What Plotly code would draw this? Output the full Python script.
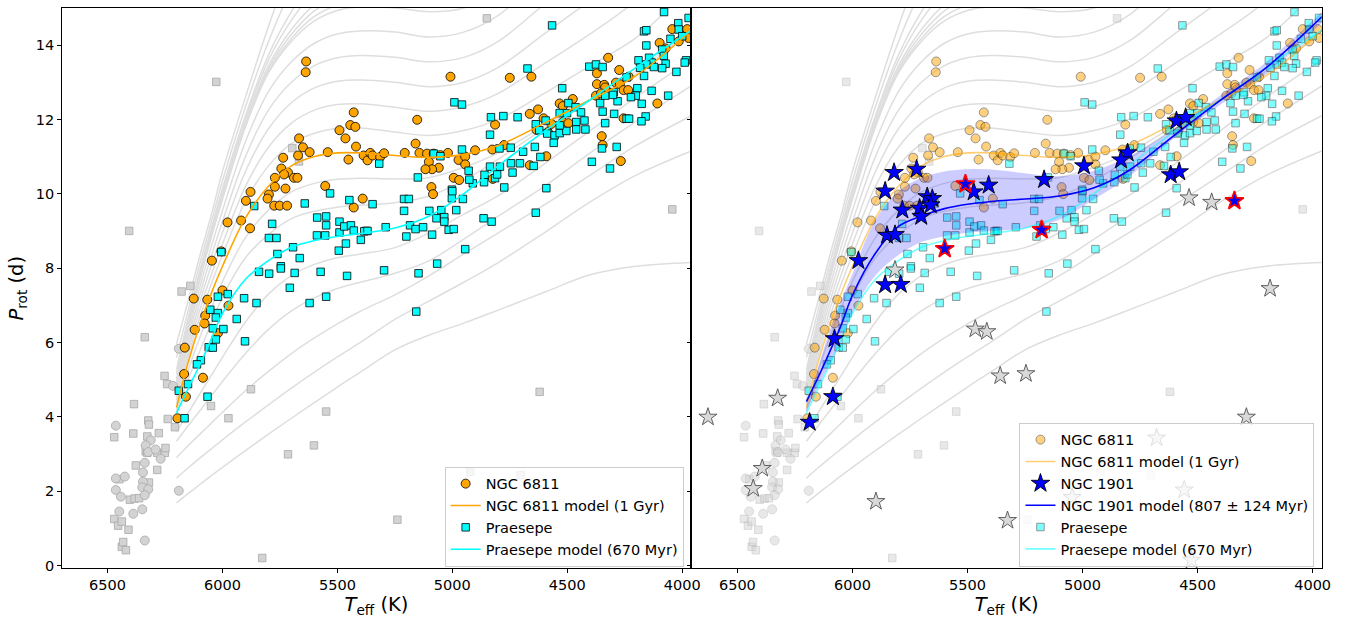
import plotly.graph_objects as go

# ---------------- grey gyrochrone grid (Teff grid, one P row per curve) -------------
GRID_TEFF = [6200, 6150, 6100, 6050, 6000, 5900, 5800, 5700, 5600, 5500, 5400,
             5250, 5100, 4950, 4800, 4600, 4400, 4200, 3960]
N = None
iso_a = [1.68, 1.93, 2.17, 2.41, 2.64, 3.09, 3.53, 3.96, 4.38, 4.80, 5.20, 5.80, 6.20, 6.52, 6.87, 7.35, 7.82, 8.05, 8.15]
iso_b = [2.35, 2.62, 2.88, 3.13, 3.38, 3.86, 4.32, 4.77, 5.20, 5.61, 6.00, 6.62, 7.12, 7.62, 8.15, 8.95, 9.78, 10.50, 11.15]
iso_c = [2.90, 3.22, 3.52, 3.82, 4.12, 4.70, 5.22, 5.70, 6.12, 6.50, 6.84, 7.28, 7.80, 8.38, 8.95, 9.70, 10.50, 11.30, 12.10]
iso_d = [3.34, 3.75, 4.15, 4.55, 4.95, 5.70, 6.35, 6.85, 7.20, 7.45, 7.62, 7.86, 8.20, 8.78, 9.40, 10.20, 11.10, 11.95, 12.90]
iso_e = [3.60, 4.10, 4.60, 5.10, 5.60, 6.55, 7.30, 7.80, 8.10, 8.28, 8.38, 8.55, 8.95, 9.45, 9.95, 10.80, 11.70, 12.60, 13.60]
iso_g = [4.15, 5.00, 5.75, 6.50, 7.22, 8.28, 8.90, 9.33, 9.53, 9.64, 9.69, 9.76, 9.94, 10.36, 10.93, 11.76, 12.53, 13.31, 14.40]
iso_h = [4.20, 5.23, 6.11, 6.91, 7.64, 8.82, 9.56, 10.05, 10.28, 10.39, 10.42, 10.40, 10.44, 10.71, 11.10, 11.83, 12.53, 13.23, 14.40]
iso_j = [4.35, 5.60, 6.65, 7.55, 8.35, 9.80, 10.75, 11.35, 11.63, 11.76, 11.77, 11.66, 11.57, 11.70, 12.00, 12.70, 13.45, 14.20, 15.60]
iso_k = [4.45, 5.75, 6.85, 7.80, 8.65, 10.20, 11.25, 11.90, 12.25, 12.40, 12.42, 12.33, 12.22, 12.35, 12.70, 13.50, 14.30, 15.20, 16.60]
iso_l = [4.55, 5.90, 7.05, 8.05, 8.95, 10.60, 11.75, 12.45, 12.85, 13.03, 13.06, 13.00, 12.88, 13.00, 13.40, 14.30, 15.20, 16.10, 17.60]
iso_m = [4.65, 6.05, 7.25, 8.30, 9.25, 11.00, 12.25, 13.00, 13.45, 13.66, 13.72, 13.67, 13.55, 13.67, 14.10, 15.10, 16.10, 17.10, 18.60]
iso_n = [4.75, 6.20, 7.45, 8.55, 9.55, 11.40, 12.75, 13.55, 14.05, 14.30, 14.38, 14.35, 14.22, 14.35, 14.80, 15.90, 17.00, N, N]
iso_o = [4.85, 6.35, 7.65, 8.80, 9.85, 11.80, 13.25, 14.10, 14.65, 14.93, 15.03, 15.00, 14.90, 15.00, 15.50, 16.70, N, N, N]
iso_z1 = [4.89, 6.38, 7.68, 8.82, 9.88, 11.83, 13.30, 14.18, 14.77, 15.08, 15.21, 15.25, N, N, N, N, N, N, N]
iso_z2 = [4.95, 6.42, 7.71, 8.85, 9.92, 11.87, 13.36, 14.29, 14.92, 15.27, 15.43, 15.5, N, N, N, N, N, N, N]
iso_z3 = [5.02, 6.46, 7.75, 8.89, 9.96, 11.92, 13.44, 14.42, 15.09, 15.50, 15.70, N, N, N, N, N, N, N, N]
iso_z4 = [5.15, 6.55, 7.83, 8.96, 10.05, 12.02, 13.59, 14.67, 15.45, 15.95, 16.24, N, N, N, N, N, N, N, N]
iso_z5 = [5.27, 6.64, 7.90, 9.03, 10.14, 12.10, 13.73, 14.90, 15.77, 16.36, 16.73, N, N, N, N, N, N, N, N]
iso_z6 = [5.59, 6.85, 8.09, 9.20, 10.35, 12.34, 14.09, 15.51, 16.63, 17.46, N, N, N, N, N, N, N, N, N]
iso_z7 = [5.96, 7.10, 8.30, 9.40, 10.60, 12.60, 14.50, 16.20, 17.60, N, N, N, N, N, N, N, N, N, N]
ISOCHRONES = [iso_a, iso_b, iso_c, iso_d, iso_e, iso_g, iso_h, iso_j, iso_k, iso_l,
              iso_m, iso_n, iso_o, iso_z1, iso_z2, iso_z3, iso_z4, iso_z5, iso_z6, iso_z7]

# ---------------- cluster models -------------
NGC6811_MODEL = [4.25, 5.45, 6.45, 7.30, 8.05, 9.35, 10.20, 10.75, 11.00, 11.10, 11.10, 11.03, 10.98, 11.06, 11.30, 11.90, 12.53, 13.18, 14.40]
PRAESEPE_MODEL = [4.10, 4.75, 5.38, 6.07, 6.78, 7.70, 8.20, 8.56, 8.74, 8.85, 8.93, 9.08, 9.40, 10.00, 10.75, 11.68, 12.53, 13.40, 14.40]
NGC1901_MODEL = [4.41, 5.05, 5.73, 6.45, 7.27, 8.40, 9.12, 9.40, 9.60, 9.72, 9.79, 9.86, 9.94, 10.16, 10.62, 11.58, 12.52, 13.40, 14.76]
NGC1901_UPPER = [4.30, 5.30, 6.30, 7.10, 7.85, 9.30, 10.06, 10.43, 10.60, 10.66, 10.65, 10.55, 10.47, 10.62, 11.00, 11.75, 12.65, 13.55, 14.90]
NGC1901_LOWER = [4.15, 4.80, 5.40, 6.00, 6.80, 7.80, 8.35, 8.70, 8.86, 8.95, 9.00, 9.07, 9.30, 9.85, 10.45, 11.50, 12.40, 13.25, 14.60]

# ---------------- observed stars (Teff [K], Prot [d]) -------------
NGC6811 = [(5636,13.56),(5638,13.27),(5429,12.19),(5491,11.71),(5444,11.85),(5422,11.80),(5465,11.49),(5419,11.27),(5667,11.49),(5650,11.25),(5621,11.12),(5542,11.12),(5671,11.03),(5736,10.97),(5452,10.92),(5744,10.68),(5715,10.57),(5732,10.52),(5772,10.43),(5689,10.43),(5674,10.43),(5553,10.21),(5772,10.19),(5726,10.14),(5878,10.05),(5798,9.98),(5804,9.87),(5898,9.81),(5775,9.68),(5751,9.68),(5719,9.68),(5429,9.63),(5919,9.28),(5978,9.23),(5880,9.07),(6046,8.20),(6005,8.45),(6000,7.40),(5974,6.99),(6066,7.15),(6125,7.18),(6075,6.72),(6078,6.51),(6121,6.34),(6020,6.25),(6164,5.86),(6167,5.15),(6085,5.05),(6159,4.54),(6196,3.96),
           (5390,9.87),(5386,11.03),(5369,10.90),(5357,11.10),(5347,11.03),(5314,10.99),(5297,11.09),
           (5008,13.15),(4750,13.12),(4656,13.15),(4322,13.66),(4098,14.06),(4072,13.91),(4043,14.43),(3978,14.43),(3972,14.19),(4015,14.10),
           (5153,11.99),(4814,11.86),(4663,12.15),(4627,12.27),(4533,12.43),(4476,12.55),(4371,13.24),(4371,12.95),(4339,12.93),(4335,12.86),(4375,12.64),(4353,12.70),(4288,12.99),(4271,12.95),(4255,12.79),(4235,12.79),(4233,13.15),(4274,13.33),(4108,12.43),(4255,12.03),(4350,11.55),(4346,11.31),(4267,10.88),(4603,12.03),(4569,11.88),(4519,11.93),(4495,11.90),(4584,11.66),(4634,11.72),(4519,12.36),
           (5207,11.10),(5160,11.35),(5143,11.10),(5110,11.08),(5102,10.86),(5081,11.08),(5052,11.04),(5019,11.10),(5059,10.70),(5088,10.66),(5117,10.66),(4994,10.43),(4970,10.37),(4973,10.91),(4944,11.00),(4944,10.79),(4901,11.17),(4826,11.19),(4775,11.31),(5091,10.18),(5084,9.99),(4824,10.40),(4663,10.77),(4591,11.01)]

PRAESEPE = [(5862,9.67),(5784,9.19),(5798,8.81),(5765,8.81),(5761,8.38),(5746,8.05),(5746,7.99),(5693,8.56),(5664,8.27),(5686,7.87),(5642,9.74),(5532,10.01),(5588,9.36),(5549,9.39),(5549,9.15),(5589,8.88),(5553,8.88),(5491,8.96),(5494,8.47),(5463,8.66),(5448,9.83),(5458,7.79),(5491,9.25),(5470,9.12),(5441,9.15),(5429,9.01),(5573,7.90),(5549,7.23),(5621,7.06),(5707,7.47),(5841,7.90),(5852,7.06),(5906,7.19),(5977,7.30),(6020,7.23),(6005,8.43),(6053,6.88),(6020,6.79),
            (5376,9.00),(5398,8.76),(5347,9.72),(5318,10.81),(5290,9.10),(5297,7.94),(5797,7.85),(5938,6.63),(6029,6.67),(6042,6.38),(5996,6.36),(6029,6.08),(6060,5.87),(6042,5.86),(5902,6.03),(6094,5.52),(6111,5.41),(6150,4.88),(6190,4.70),(6065,4.54),(6165,3.96),(5383,8.99),(5369,9.00),
            (4079,14.89),(4566,14.53),(4017,14.59),(4015,14.42),(3972,14.73),(4166,14.37),(4156,14.40),(4000,14.24),(4051,14.17),(4156,13.99),(4087,13.88),(4080,13.71),(4072,13.50),(4087,13.38),(3983,13.59),(3989,13.53),(4025,13.28),(4190,13.59),(4144,13.66),(4133,13.53),(4156,13.48),(4183,13.39),(4166,13.17),(4123,13.41),(4242,13.13),(4404,13.42),(4375,13.48),(4346,13.41),(4195,12.84),(4133,12.77),(4061,12.64),(4202,12.64),(4223,12.60),(4281,12.49),(4176,12.42),(4159,12.08),(4177,11.95),(4242,12.02),(4231,12.02),(4296,12.15),(4335,11.90),(4346,12.21),(4357,12.44),(4298,12.73),(4335,12.64),(4301,12.66),(4495,12.44),(4464,12.33),(4440,12.19),(4533,12.17),(4501,12.17),(4594,11.97),(4461,11.93),(4425,11.97),(4637,11.87),(4622,11.71),(4587,11.62),(4555,11.57),(4533,11.63),(4504,11.69),(4461,11.73),(4421,11.73),(4559,11.37),(4533,11.84),(4673,13.37),(4522,12.84),(4832,12.06),(4778,12.09),(4716,12.06),(4836,11.59),(4991,12.46),(4958,12.40),(4958,11.19),(4641,11.26),(4692,11.13),(4617,10.99),(4795,11.22),(4746,11.24),(4929,10.62),(4860,10.51),(4836,10.73),(4793,10.73),(4745,10.82),(4738,10.57),(4706,10.82),(4646,10.75),(4911,10.28),(4862,10.31),(4814,10.42),(4774,10.17),(4954,9.86),(5002,10.11),(5002,9.88),(5150,10.44),(5081,11.08),(5052,11.01),(5210,9.86),(5189,9.86),(4591,10.15),(4393,10.86),(4314,10.68),(4349,11.22),(4285,11.26),(4926,10.38),(4805,10.52),(5000,10.07),
            (5210,9.54),(5100,9.54),(5048,9.56),(5069,9.34),(5035,9.37),(5035,9.25),(5016,9.03),(4994,9.05),(4983,9.56),(5184,9.15),(5160,9.05),(5127,9.10),(5088,8.90),(5200,8.85),(4864,9.34),(4829,9.25),(4637,9.49),(4944,8.51),(5066,8.12),(5147,7.86),(5157,6.83)]

BG_SQUARES = [(6027,13.01),(6406,9.00),(5696,11.23),(6178,7.37),(6140,7.52),(5667,10.87),(4850,14.72),(4043,9.58),(6338,6.14),(6252,5.10),(6241,4.88),(6385,4.34),(6238,3.94),(6207,3.72),(6323,3.90),(6320,3.79),(6388,3.55),(6277,3.56),(6471,3.45),(6327,3.47),(6334,3.07),(6327,3.03),(6284,3.03),(6251,3.03),(6248,3.16),(6377,2.69),(6284,2.57),(6320,2.23),(6449,2.32),(6403,1.77),(6382,1.80),(6363,1.81),(6471,1.25),(6454,1.07),(6438,1.18),(6409,0.96),(6438,0.50),(6432,0.63),(6420,0.41),(6050,4.29),(5974,3.96),(5876,4.74),(5715,2.99),(5602,3.23),(5549,4.14),(5827,0.20),(4620,4.67),(5239,1.23),(4922,2.52),(4703,2.43)]
BG_CIRCLES = [(6464,3.76),(6312,3.37),(6334,3.23),(6323,3.05),(6291,3.12),(6269,2.87),(6338,2.76),(6346,2.50),(6464,2.34),(6425,2.39),(6346,2.25),(6349,2.10),(6323,2.05),(6464,2.03),(6442,1.85),(6338,1.89),(6449,1.45),(6388,1.39),(6349,1.51),(6338,0.67),(6190,2.01),(6190,5.83),(6215,4.83)]

NGC1901 = [(5819,10.57),(5721,10.66),(5858,10.07),(5783,9.56),(5708,9.61),(5675,9.92),(5653,9.87),(5660,9.70),(5701,9.39),(5850,8.88),(5815,8.90),(5974,8.20),(5858,7.55),(5790,7.56),(5473,10.05),(5408,10.23),(5167,10.38),(4994,10.75),(4804,11.10),(4833,10.91),(4592,11.96),(4552,12.05),(4617,10.51),(4580,10.59),(6078,6.10),(6085,4.54),(6186,3.85)]
NGC1901_FLAGGED = [(5509,10.26),(5599,8.52),(5178,9.03),(4340,9.81)]
NGC1901_NONMEMBERS = [(4537,9.89),(4439,9.77),(4185,7.45),(6628,3.99),(6325,4.50),(6392,2.61),(6431,2.07),(5466,6.36),(5416,6.29),(5358,5.10),(5246,5.16),(5898,1.72),(5326,1.21),(4288,3.99),(4678,3.43),(4558,2.03),(4526,0.14),(5045,1.83),(5815,7.95)]

XRANGE = [6700, 3960]
YRANGE = [-0.08, 15.0]
FONT = "DejaVu Sans"
SMOOTH = 1.0


def split(pairs):
    return [p[0] for p in pairs], [p[1] for p in pairs]


fig = go.Figure()


def add_panel(xa, ya, right):
    fade = 0.5 if right else 1.0
    leg = "legend2" if right else "legend"
    for row in ISOCHRONES:
        fig.add_trace(go.Scatter(x=GRID_TEFF, y=row, mode="lines", xaxis=xa, yaxis=ya,
                                 line=dict(color="#dedede", width=1.5, shape="spline", smoothing=SMOOTH),
                                 showlegend=False, hoverinfo="skip"))
    tx, py = split(BG_SQUARES)
    fig.add_trace(go.Scatter(x=tx, y=py, mode="markers", xaxis=xa, yaxis=ya, showlegend=False,
                             marker=dict(symbol="square", size=7.5, color="#d3d3d3", opacity=fade,
                                         line=dict(color="#a8a8a8", width=0.8))))
    tx, py = split(BG_CIRCLES)
    fig.add_trace(go.Scatter(x=tx, y=py, mode="markers", xaxis=xa, yaxis=ya, showlegend=False,
                             marker=dict(symbol="circle", size=9, color="#d3d3d3", opacity=fade,
                                         line=dict(color="#a8a8a8", width=0.8))))
    tx, py = split(NGC6811)
    fig.add_trace(go.Scatter(x=tx, y=py, mode="markers", xaxis=xa, yaxis=ya, name="NGC 6811",
                             legend=leg, legendrank=1,
                             marker=dict(symbol="circle", size=9, color="#ffa500", opacity=fade,
                                         line=dict(color="black", width=0.8))))
    tx, py = split(PRAESEPE)
    fig.add_trace(go.Scatter(x=tx, y=py, mode="markers", xaxis=xa, yaxis=ya, name="Praesepe",
                             legend=leg, legendrank=5,
                             marker=dict(symbol="square", size=7.5, color="#00ffff", opacity=fade,
                                         line=dict(color="black", width=0.8))))
    if right:
        fig.add_trace(go.Scatter(x=GRID_TEFF, y=NGC1901_UPPER, mode="lines", xaxis=xa, yaxis=ya,
                                 line=dict(width=0, shape="spline", smoothing=SMOOTH),
                                 showlegend=False, hoverinfo="skip"))
        fig.add_trace(go.Scatter(x=GRID_TEFF, y=NGC1901_LOWER, mode="lines", xaxis=xa, yaxis=ya,
                                 line=dict(width=0, shape="spline", smoothing=SMOOTH), fill="tonexty",
                                 fillcolor="rgba(0,0,255,0.2)", showlegend=False, hoverinfo="skip"))
    lc_or = "rgba(255,165,0,0.55)" if right else "#ffa500"
    lc_cy = "rgba(0,255,255,0.55)" if right else "#00ffff"
    fig.add_trace(go.Scatter(x=GRID_TEFF, y=NGC6811_MODEL, mode="lines", xaxis=xa, yaxis=ya,
                             name="NGC 6811 model (1 Gyr)", legend=leg, legendrank=2,
                             line=dict(color=lc_or, width=1.6, shape="spline", smoothing=SMOOTH)))
    fig.add_trace(go.Scatter(x=GRID_TEFF, y=PRAESEPE_MODEL, mode="lines", xaxis=xa, yaxis=ya,
                             name="Praesepe model (670 Myr)", legend=leg, legendrank=6,
                             line=dict(color=lc_cy, width=1.6, shape="spline", smoothing=SMOOTH)))
    if right:
        fig.add_trace(go.Scatter(x=GRID_TEFF, y=NGC1901_MODEL, mode="lines", xaxis=xa, yaxis=ya,
                                 name="NGC 1901 model (807 ± 124 Myr)", legend=leg, legendrank=4,
                                 line=dict(color="#0000ff", width=1.6, shape="spline", smoothing=SMOOTH)))
        tx, py = split(NGC1901_NONMEMBERS)
        fig.add_trace(go.Scatter(x=tx, y=py, mode="markers", xaxis=xa, yaxis=ya, showlegend=False,
                                 marker=dict(symbol="star", size=13.5, color="#d9d9d9",
                                             line=dict(color="#505050", width=0.9))))
        tx, py = split(NGC1901)
        fig.add_trace(go.Scatter(x=tx, y=py, mode="markers", xaxis=xa, yaxis=ya, name="NGC 1901",
                                 legend=leg, legendrank=3,
                                 marker=dict(symbol="star", size=14, color="#0000ff",
                                             line=dict(color="black", width=0.9))))
        tx, py = split(NGC1901_FLAGGED)
        fig.add_trace(go.Scatter(x=tx, y=py, mode="markers", xaxis=xa, yaxis=ya, showlegend=False,
                                 marker=dict(symbol="star", size=14, color="#0000ff",
                                             line=dict(color="#ff0000", width=1.7))))


add_panel("x", "y", False)
add_panel("x2", "y2", True)

axis_common = dict(range=XRANGE, showline=True, linecolor="black", linewidth=1, mirror=True,
                   ticks="outside", ticklen=3.5, tickwidth=0.8, tickcolor="black",
                   showgrid=False, zeroline=False, tickvals=[6500, 6000, 5500, 5000, 4500, 4000],
                   tickfont=dict(family=FONT, size=14.5, color="black"))
xtitle = dict(text="<i>T</i><sub>eff</sub> (K)", font=dict(family=FONT, size=19.5, color="black"), standoff=4)
y_common = dict(range=YRANGE, showline=True, linecolor="black", linewidth=1, mirror=True,
                ticks="outside", ticklen=3.5, tickwidth=0.8, tickcolor="black",
                showgrid=False, zeroline=False, tickvals=[0, 2, 4, 6, 8, 10, 12, 14],
                tickfont=dict(family=FONT, size=14.5, color="black"))

leg_common = dict(xanchor="right", yanchor="bottom", bgcolor="rgba(255,255,255,0.8)",
                  bordercolor="#cccccc", borderwidth=1, tracegroupgap=0, traceorder="normal",
                  font=dict(family=FONT, size=14.5, color="black"))

fig.update_layout(
    width=1354, height=623, margin=dict(l=0, r=0, t=0, b=0),
    paper_bgcolor="white", plot_bgcolor="white",
    font=dict(family=FONT, color="black"),
    xaxis=dict(domain=[0.04579, 0.51403], anchor="y", title=xtitle, **axis_common),
    xaxis2=dict(domain=[0.51403, 0.98279], anchor="y2", title=xtitle, **axis_common),
    yaxis=dict(domain=[0.08026, 0.98716], anchor="x",
               title=dict(text="<i>P</i><sub>rot</sub> (d)", font=dict(family=FONT, size=19.5, color="black"), standoff=6),
               **y_common),
    yaxis2=dict(domain=[0.08026, 0.98716], anchor="x2", showticklabels=False, **y_common),
    legend=dict(x=0.5083, y=0.083, **leg_common),
    legend2=dict(x=0.9773, y=0.083, **leg_common),
    showlegend=True,
)

fig.write_html("out.html")
